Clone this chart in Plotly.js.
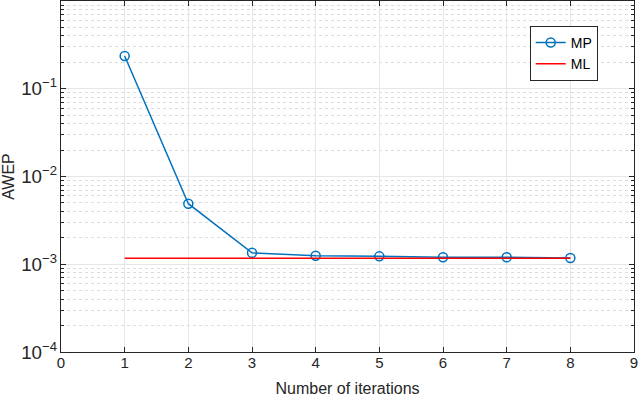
<!DOCTYPE html>
<html>
<head>
<meta charset="utf-8">
<script src="https://cdn.plot.ly/plotly-3.0.1.min.js"></script>
<style>
  body { margin: 0; padding: 0; background: #fff; }
  #plot { width: 640px; height: 397px; }
</style>
</head>
<body>
<div id="plot"></div>
<script>
var iterations = [1, 2, 3, 4, 5, 6, 7, 8];
var awepMP = [0.236, 0.0049, 0.00135, 0.00125, 0.00123, 0.0012, 0.0012, 0.00118];
var mlX = [1, 8];
var mlY = [0.00117, 0.00117];

var axisColor = '#262626';
var gridColor = '#e6e6e6';

var traces = [{
    x: iterations,
    y: awepMP,
    type: 'scatter',
    mode: 'lines+markers',
    name: 'MP',
    line: {color: '#0072BD', width: 1.5},
    marker: {symbol: 'circle-open', size: 9, color: '#0072BD', line: {width: 1.5}}
}, {
    x: mlX,
    y: mlY,
    type: 'scatter',
    mode: 'lines',
    name: 'ML',
    line: {color: '#ff0000', width: 1.5}
}];

var layout = {
    width: 640,
    height: 397,
    margin: {l: 61, r: 6, t: 1, b: 45},
    paper_bgcolor: '#fff',
    plot_bgcolor: '#fff',
    font: {family: 'Liberation Sans, Arial, sans-serif', size: 15, color: axisColor},
    showlegend: true,
    legend: {
        x: 0.818, y: 0.929, xanchor: 'left', yanchor: 'top',
        bgcolor: '#fff', bordercolor: '#262626', borderwidth: 1,
        font: {size: 14, color: '#000'},
        itemwidth: 30,
        tracegroupgap: 0
    },
    xaxis: {
        range: [0, 9],
        dtick: 1,
        tick0: 0,
        ticks: 'inside',
        ticklen: 5,
        tickcolor: axisColor,
        ticklabelstandoff: -3,
        tickfont: {size: 15},
        showline: true,
        linecolor: axisColor,
        linewidth: 1,
        mirror: 'ticks',
        showgrid: true,
        gridcolor: gridColor,
        zeroline: false,
        title: {text: 'Number of iterations', font: {size: 16}, standoff: 15}
    },
    yaxis: {
        type: 'log',
        range: [-4, 0],
        dtick: 1,
        exponentformat: 'power',
        ticks: 'inside',
        ticklen: 5,
        tickcolor: axisColor,
        showline: true,
        linecolor: axisColor,
        linewidth: 1,
        mirror: 'ticks',
        showgrid: true,
        gridcolor: gridColor,
        zeroline: false,
        minor: {
            dtick: 'D1',
            ticks: 'inside',
            ticklen: 3,
            tickcolor: axisColor,
            showgrid: true,
            gridcolor: '#dcdcdc',
            griddash: 'dot'
        },
        title: {text: 'AWEP', font: {size: 16}, standoff: 4}
    }
};

Plotly.newPlot('plot', traces, layout, {displayModeBar: false, staticPlot: true});
</script>
</body>
</html>
